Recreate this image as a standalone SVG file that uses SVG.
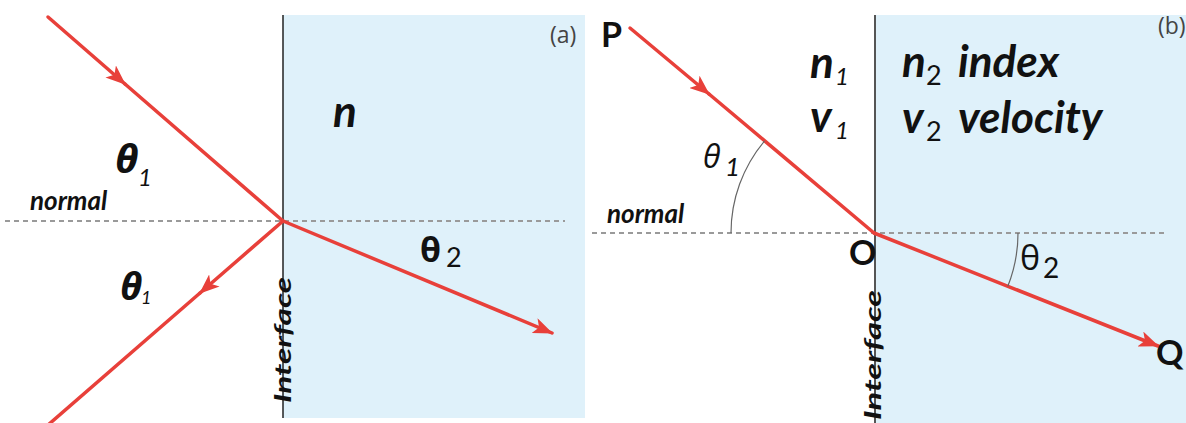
<svg xmlns="http://www.w3.org/2000/svg" width="1186" height="423" viewBox="0 0 1186 423">
<style>
.bg{fill:#dff1fa}
.ray{stroke:#e8403a;stroke-width:3.5;fill:none;stroke-linecap:round}
.normal{stroke:#9a9a9a;stroke-width:2;stroke-dasharray:5 4;fill:none}
.arc{stroke:#666;stroke-width:1.2;fill:none}
.lbl{font-family:Lato,"Open Sans","DejaVu Sans",sans-serif;fill:#111}
.bi{font-weight:bold;font-style:italic}
.b{font-weight:bold}
.it{font-style:italic}
.th{font-family:"Open Sans","DejaVu Sans",sans-serif;fill:#111}
.tag{font-family:"Open Sans","Liberation Sans",sans-serif;fill:#444;font-size:23px}
</style>
<defs>
<marker id="ah" markerUnits="userSpaceOnUse" markerWidth="20" markerHeight="16" viewBox="0 0 20 16" refX="19" refY="8" orient="auto">
<path d="M0,0 L20,8 L0,16 L5,8 z" fill="#e8403a"/>
</marker>
</defs>

<g id="panel-a-medium">
<rect class="bg" x="283" y="15" width="302" height="403"/>
<line x1="283" y1="15" x2="283" y2="418" stroke="#222" stroke-width="1.5"/>
</g>
<g id="panel-b-medium">
<rect class="bg" x="875" y="15" width="311" height="408"/>
<line x1="875" y1="15" x2="875" y2="423" stroke="#555" stroke-width="2"/>
</g>

<g id="normals">
<line class="normal" x1="5" y1="221" x2="565" y2="221"/>
<line class="normal" x1="592" y1="233" x2="1165" y2="233"/>
</g>

<g id="connectors">
<line class="ray" x1="48" y1="17" x2="125" y2="84" marker-end="url(#ah)"/>
<line class="ray" x1="125" y1="84" x2="283" y2="221"/>
<line class="ray" x1="283" y1="221" x2="200" y2="293" marker-end="url(#ah)"/>
<line class="ray" x1="200" y1="293" x2="48" y2="425"/>
<line class="ray" x1="283" y1="221" x2="552" y2="333" marker-end="url(#ah)"/>
<line class="ray" x1="630" y1="28" x2="709" y2="94" marker-end="url(#ah)"/>
<line class="ray" x1="709" y1="94" x2="874" y2="233"/>
<line class="ray" x1="874" y1="233" x2="1158" y2="346" marker-end="url(#ah)"/>
</g>

<g id="angle-arcs">
<path class="arc" d="M731,233 A143,143 0 0 1 764.5,141"/>
<path class="arc" d="M1018,233 A144,144 0 0 1 1007.8,286.3"/>
</g>

<g id="label-a-normal"><text class="lbl bi" x="30" y="210" font-size="26">normal</text></g>
<g id="label-a-theta1-top"><text class="th bi" x="115" y="173" font-size="40">θ</text><text class="lbl it" x="138" y="186" font-size="24">1</text></g>
<g id="label-a-theta1-bottom"><text class="th bi" x="120" y="300" font-size="38">θ</text><text class="lbl it" x="141" y="304" font-size="18">1</text></g>
<g id="label-a-n"><text class="lbl bi" x="333" y="127" font-size="44">n</text></g>
<g id="label-a-theta2"><text class="th b" x="420" y="262" font-size="34">θ</text><text class="lbl" x="446" y="267" font-size="27">2</text></g>
<g id="label-a-tag"><text class="tag" x="550" y="43">(a)</text></g>
<g id="label-a-interface"><text class="lbl bi" transform="translate(291,403) rotate(-90)" font-size="22" textLength="126" lengthAdjust="spacingAndGlyphs">Interface</text></g>

<g id="label-b-P"><text class="lbl b" x="601" y="47" font-size="34">P</text></g>
<g id="label-b-n1"><text class="lbl bi" x="810" y="78" font-size="44">n</text><text class="lbl it" x="835" y="85" font-size="24">1</text></g>
<g id="label-b-v1"><text class="lbl bi" x="810" y="132" font-size="44">v</text><text class="lbl it" x="835" y="139" font-size="24">1</text></g>
<g id="label-b-n2"><text class="lbl bi" x="902" y="77" font-size="44">n</text><text class="lbl" x="926" y="85" font-size="27">2</text><text class="lbl bi" x="958" y="77" font-size="44">index</text></g>
<g id="label-b-v2"><text class="lbl bi" x="902" y="133" font-size="44">v</text><text class="lbl" x="926" y="141" font-size="27">2</text><text class="lbl bi" x="958" y="133" font-size="44">velocity</text></g>
<g id="label-b-theta1"><text class="th it" x="703" y="168" font-size="32">θ</text><text class="lbl it" x="725" y="176" font-size="26">1</text></g>
<g id="label-b-normal"><text class="lbl bi" x="607" y="223" font-size="26">normal</text></g>
<g id="label-b-O"><text class="lbl b" x="849" y="265" font-size="34">O</text></g>
<g id="label-b-theta2"><text class="th" x="1020" y="270" font-size="34">θ</text><text class="lbl" x="1043" y="278" font-size="28">2</text></g>
<g id="label-b-Q"><text class="lbl b" x="1156" y="365" font-size="34">Q</text></g>
<g id="label-b-tag"><text class="tag" x="1158" y="34">(b)</text></g>
<g id="label-b-interface"><text class="lbl bi" transform="translate(881,420) rotate(-90)" font-size="22" textLength="130" lengthAdjust="spacingAndGlyphs">Interface</text></g>
</svg>
